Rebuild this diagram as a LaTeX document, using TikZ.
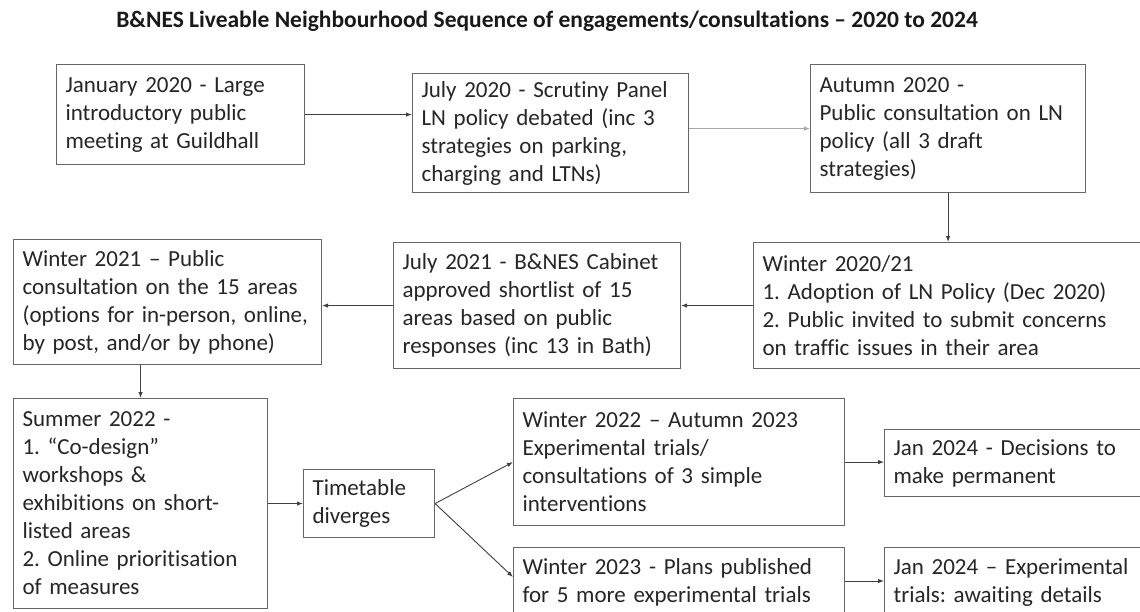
\documentclass[tikz,border=0pt]{standalone}
\usepackage{fontspec}
\setmainfont{Carlito}[Ligatures=NoCommon]
\usetikzlibrary{arrows.meta}
\frenchspacing

\begin{document}
\begin{tikzpicture}[x=1pt, y=-1pt,
        stage/.style={draw=black!60, line width=1.1pt, anchor=north west, align=left,
            inner xsep=9pt, inner ysep=2pt, text=black!85, font=\fontsize{23}{28}\selectfont},
        link/.style={draw=black!75, line width=0.9pt, -{Latex[length=6pt,width=4.5pt]}}]
    \clip (0,0) rectangle (1140,611);
    \fill[white] (0,0) rectangle (1140,611);
    \node[text=black!90] (title) at (547,21)
        {\bfseries\fontsize{23.5}{27}\selectfont B\&NES Liveable Neighbourhood Sequence of engagements/consultations -- 2020 to 2024};

    % top row
    \node[stage, text width=230pt, minimum height=100pt] (jan2020) at (56,64)
        {January 2020 - Large\\ introductory public\\ meeting at Guildhall};
    \node[stage, text width=258pt, minimum height=119pt] (jul2020) at (412,73)
        {July 2020 - Scrutiny Panel\\ LN policy debated (inc 3\\ strategies on parking,\\ charging and LTNs)};
    \node[stage, text width=257pt, minimum height=128pt] (aut2020) at (810,64)
        {Autumn 2020 -\\ Public consultation on LN\\ policy (all 3 draft\\ strategies)};

    % second row
    \node[stage, text width=402pt, minimum height=126pt] (win2020) at (753,242)
        {Winter 2020/21\\ 1. Adoption of LN Policy (Dec 2020)\\ 2. Public invited to submit concerns\\ on traffic issues in their area};
    \node[stage, text width=269pt, minimum height=126pt] (jul2021) at (393,242)
        {July 2021 - B\&NES Cabinet\\ approved shortlist of 15\\ areas based on public\\ responses (inc 13 in Bath)};
    \node[stage, text width=290pt, minimum height=125pt] (win2021) at (13,239)
        {Winter 2021 -- Public\\ consultation on the 15 areas\\ (options for in-person, online,\\ by post, and/or by phone)};

    % third row
    \node[stage, text width=236pt, minimum height=210pt] (sum2022) at (13,398)
        {Summer 2022 -\\ 1. “Co-design”\\ workshops \&\\ exhibitions on short-\\ listed areas\\ 2. Online prioritisation\\ of measures};
    \node[stage, text width=113pt, minimum height=68pt] (diverge) at (303,469)
        {Timetable\\ diverges};
    \node[stage, text width=313pt, minimum height=127pt] (win2022) at (513,398)
        {Winter 2022 -- Autumn 2023\\ Experimental trials/\\ consultations of 3 simple\\ interventions};
    \node[stage, text width=282pt, minimum height=67pt] (jan2024a) at (884,429)
        {Jan 2024 - Decisions to\\ make permanent};
    \node[stage, text width=313pt, minimum height=70pt] (win2023) at (513,547)
        {Winter 2023 - Plans published\\ for 5 more experimental trials};
    \node[stage, text width=282pt, minimum height=70pt] (jan2024b) at (884,547)
        {Jan 2024 -- Experimental\\ trials: awaiting details};

    % connectors
    \draw[link] (jan2020.east) -- (jan2020.east -| jul2020.west);
    \draw[link, draw=black!35] (aut2020.west -| jul2020.east) -- (aut2020.west);
    \draw[link] (aut2020.south) -- (aut2020.south |- win2020.north);
    \draw[link] (win2020.west) -- (jul2021.east);
    \draw[link] (jul2021.west) -- (jul2021.west -| win2021.east);
    \draw[link] (sum2022.north |- win2021.south) -- (sum2022.north);
    \draw[link] (sum2022.east) -- (diverge.west);
    \draw[link] (diverge.east) -- (win2022.west);
    \draw[link] (diverge.east) -- ([yshift=-30pt]win2023.north west);
    \draw[link] (win2022.east) -- (win2022.east -| jan2024a.west);
    \draw[link] ([yshift=-34pt]win2023.north east) -- ([yshift=-34pt]jan2024b.north west);
\end{tikzpicture}
\end{document}
